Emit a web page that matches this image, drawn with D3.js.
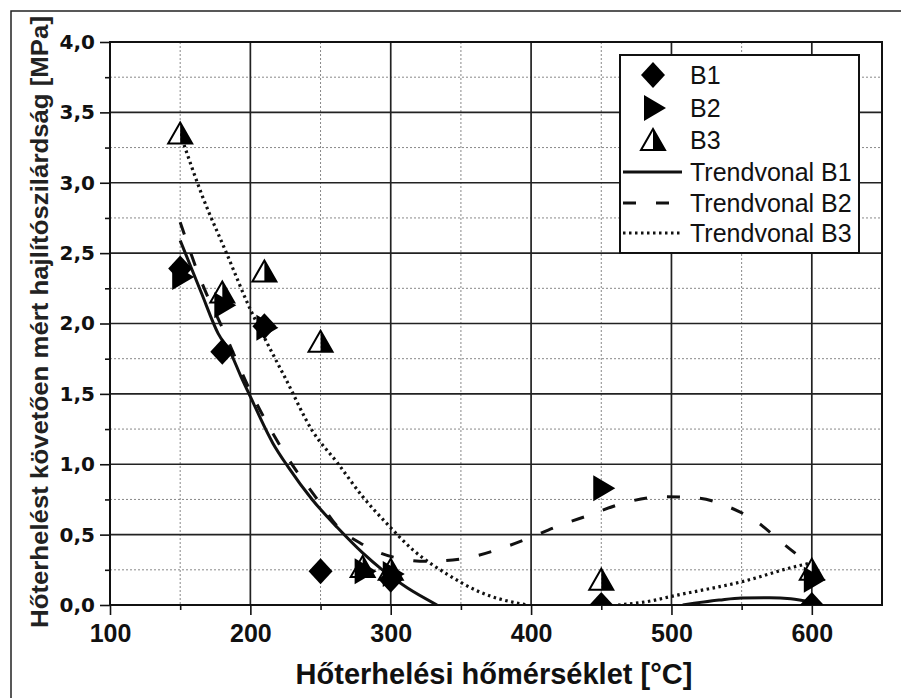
<!DOCTYPE html>
<html>
<head>
<meta charset="utf-8">
<script src="https://cdn.jsdelivr.net/npm/d3@7"></script>
<style>
  body { margin: 0; background: #fff; }
  text { font-family: "Liberation Sans", Arial, sans-serif; }
</style>
</head>
<body>
<svg id="chart" width="901" height="698"></svg>
<script>
// measured points (temperature, strength)
const b1Points = [[150, 2.39], [180, 1.80], [210, 1.98], [250, 0.24], [300, 0.18], [450, 0.0], [600, 0.0]];
const b2Points = [[150, 2.33], [180, 2.13], [210, 1.97], [280, 0.24], [300, 0.22], [450, 0.83], [600, 0.18]];
const b3Points = [[150, 3.35], [180, 2.22], [210, 2.37], [250, 1.87], [280, 0.27], [300, 0.25], [450, 0.18], [600, 0.25]];

// trend lines (null = below the axis, not drawn)
const trendB1 = [[150, 2.59], [165, 2.22], [177, 1.93], [186, 1.79], [193, 1.63], [200, 1.48], [216, 1.15],
    [227, 0.98], [244, 0.75], [262, 0.55], [280, 0.37], [294, 0.25], [312, 0.12], [333, 0.0], [420, null],
    [508, 0.0], [534, 0.035], [550, 0.05], [570, 0.052], [585, 0.045], [600, 0.02]];
const trendB2 = [[150, 2.72], [165, 2.3], [180, 1.97], [200, 1.52], [225, 1.07], [250, 0.72], [261, 0.57],
    [280, 0.43], [302, 0.34], [326, 0.31], [352, 0.33], [375, 0.39], [397, 0.47], [419, 0.56], [442, 0.64],
    [468, 0.73], [494, 0.77], [519, 0.76], [540, 0.70], [561, 0.59], [578, 0.45], [594, 0.32], [600, 0.27]];
const trendB3 = [[150, 3.35], [166, 2.9], [183, 2.50], [200, 2.10], [212, 1.86], [225, 1.61], [244, 1.24],
    [262, 1.01], [280, 0.77], [298, 0.57], [316, 0.39], [340, 0.22], [364, 0.09], [392, 0.01], [398, 0.0],
    [430, null], [462, 0.0], [482, 0.023], [504, 0.07], [516, 0.094], [550, 0.165], [587, 0.27], [600, 0.30]];

const xTicks = [100, 200, 300, 400, 500, 600];
const xMinor = [150, 250, 350, 450, 550];
const yTicks = [0, 0.5, 1.0, 1.5, 2.0, 2.5, 3.0, 3.5, 4.0];
const yMinor = [0.25, 0.75, 1.25, 1.75, 2.25, 2.75, 3.25, 3.75];

const legendItems = ['B1', 'B2', 'B3', 'Trendvonal B1', 'Trendvonal B2', 'Trendvonal B3'];

const svg = d3.select('#chart');
const pLeft = 110, pRight = 882, pTop = 42, pBottom = 605;

const x = d3.scaleLinear().domain([100, 650]).range([pLeft, pRight]);
const y = d3.scaleLinear().domain([0, 4]).range([pBottom, pTop]);

// outer frame (only top and left show in the picture)
svg.append('path').attr('d', 'M11,698 L11,11 L901,11').attr('fill', 'none').attr('stroke', '#222').attr('stroke-width', 1.5);

svg.append('clipPath').attr('id', 'plot-clip')
    .append('rect').attr('x', pLeft).attr('y', pTop).attr('width', pRight - pLeft).attr('height', pBottom - pTop);

// grid
let grid = svg.append('g');
grid.selectAll('.vmin').data(xMinor).enter().append('line')
    .attr('x1', d => x(d)).attr('x2', d => x(d)).attr('y1', pTop).attr('y2', pBottom)
    .attr('stroke', '#888').attr('stroke-width', 1).attr('stroke-dasharray', '2,2');
grid.selectAll('.hmin').data(yMinor).enter().append('line')
    .attr('y1', d => y(d)).attr('y2', d => y(d)).attr('x1', pLeft).attr('x2', pRight)
    .attr('stroke', '#888').attr('stroke-width', 1).attr('stroke-dasharray', '2,2');
grid.selectAll('.vmaj').data(xTicks).enter().append('line')
    .attr('x1', d => x(d)).attr('x2', d => x(d)).attr('y1', pTop).attr('y2', pBottom)
    .attr('stroke', '#222').attr('stroke-width', 1.7);
grid.selectAll('.hmaj').data(yTicks).enter().append('line')
    .attr('y1', d => y(d)).attr('y2', d => y(d)).attr('x1', pLeft).attr('x2', pRight)
    .attr('stroke', '#222').attr('stroke-width', 1.7);

// axes
const fmt = d => d3.format('.1f')(d).replace('.', ',');
let xAxis = svg.append('g').attr('transform', `translate(0,${pBottom})`)
    .call(d3.axisBottom(x).tickValues(xTicks).tickSize(10).tickPadding(9).tickFormat(d3.format('d')));
svg.append('g').attr('transform', `translate(0,${pBottom})`)
    .call(d3.axisBottom(x).tickValues(xMinor).tickSize(5).tickFormat(''));
let yAxis = svg.append('g').attr('transform', `translate(${pLeft},0)`)
    .call(d3.axisLeft(y).tickValues(yTicks).tickSize(10).tickPadding(5).tickFormat(fmt));
svg.append('g').attr('transform', `translate(${pLeft},0)`)
    .call(d3.axisLeft(y).tickValues(yMinor).tickSize(5).tickFormat(''));
svg.selectAll('.domain').remove();
svg.selectAll('.tick line').attr('stroke', '#111').attr('stroke-width', 1.6);
xAxis.selectAll('text').attr('fill', '#111').style('font-size', '25px').style('font-weight', 'bold')
    .style('font-family', '"Liberation Sans", Arial, sans-serif');
yAxis.selectAll('text').attr('fill', '#111').style('font-size', '20px').style('font-weight', 'bold')
    .style('font-family', '"DejaVu Sans", sans-serif');

svg.append('rect').attr('x', pLeft).attr('y', pTop).attr('width', pRight - pLeft).attr('height', pBottom - pTop)
    .attr('fill', 'none').attr('stroke', '#111').attr('stroke-width', 2);

// titles
svg.append('text').attr('x', 494).attr('y', 684).attr('text-anchor', 'middle')
    .style('font-size', '29px').style('font-weight', 'bold').attr('fill', '#111')
    .text('Hőterhelési hőmérséklet [°C]');
svg.append('text').attr('transform', 'translate(48,322) rotate(-90)').attr('text-anchor', 'middle')
    .style('font-size', '24px').style('font-weight', 'bold').attr('fill', '#222')
    .attr('textLength', 612).attr('lengthAdjust', 'spacingAndGlyphs')
    .text('Hőterhelést követően mért hajlítószilárdság [MPa]');

// trend lines
const line = d3.line().defined(d => d[1] !== null).x(d => x(d[0])).y(d => y(d[1])).curve(d3.curveMonotoneX);
let plot = svg.append('g').attr('clip-path', 'url(#plot-clip)');
plot.append('path').datum(trendB1).attr('d', line).attr('fill', 'none').attr('stroke', '#111').attr('stroke-width', 3);
plot.append('path').datum(trendB2).attr('d', line).attr('fill', 'none').attr('stroke', '#111').attr('stroke-width', 3)
    .attr('stroke-dasharray', '13,20');
plot.append('path').datum(trendB3).attr('d', line).attr('fill', 'none').attr('stroke', '#111').attr('stroke-width', 3.2)
    .attr('stroke-dasharray', '2.5,3.5');

// marker shapes
function diamond(g) {
    g.append('path').attr('d', 'M0,-13 L12,0 L0,13 L-12,0 Z').attr('fill', '#000');
}
function rightTri(g) {
    g.append('path').attr('d', 'M-10,-13 L12,0 L-10,13 Z').attr('fill', '#000');
}
function halfTri(g) {
    g.append('path').attr('d', 'M0,-11 L0,10 L-12,10 Z').attr('fill', '#fff');
    g.append('path').attr('d', 'M0,-11 L12,10 L0,10 Z').attr('fill', '#000');
    g.append('path').attr('d', 'M0,-11 L12,10 L-12,10 Z').attr('fill', 'none').attr('stroke', '#000').attr('stroke-width', 2);
}

plot.selectAll('.b3').data(b3Points).enter().append('g')
    .attr('transform', d => `translate(${x(d[0])},${y(d[1])})`).each(function () { halfTri(d3.select(this)); });
plot.selectAll('.b2').data(b2Points).enter().append('g')
    .attr('transform', d => `translate(${x(d[0]) + 2},${y(d[1])})`).each(function () { rightTri(d3.select(this)); });
plot.selectAll('.b1').data(b1Points).enter().append('g')
    .attr('transform', d => `translate(${x(d[0])},${y(d[1])})`).each(function () { diamond(d3.select(this)); });

// legend
let legend = svg.append('g').attr('transform', 'translate(620,55)');
legend.append('rect').attr('width', 239).attr('height', 198).attr('fill', '#fff').attr('stroke', '#111').attr('stroke-width', 2);
const rowY = [20, 53, 85, 117, 148, 178];
let rows = legend.selectAll('.row').data(legendItems).enter().append('g')
    .attr('transform', (d, i) => `translate(0,${rowY[i]})`);
rows.append('text').attr('x', 70).attr('y', 9).style('font-size', '25px').attr('fill', '#111').text(d => d);
rows.each(function (d, i) {
    let g = d3.select(this);
    if (i === 0) diamond(g.append('g').attr('transform', 'translate(33,0)'));
    if (i === 1) rightTri(g.append('g').attr('transform', 'translate(34,0)'));
    if (i === 2) halfTri(g.append('g').attr('transform', 'translate(33,0)'));
    if (i > 2) {
        let ln = g.append('line').attr('x1', 3).attr('x2', 62).attr('stroke', '#111').attr('stroke-width', 3);
        if (i === 4) ln.attr('stroke-dasharray', '13,20');
        if (i === 5) ln.attr('stroke-dasharray', '2.5,3.5');
    }
});
</script>
</body>
</html>
